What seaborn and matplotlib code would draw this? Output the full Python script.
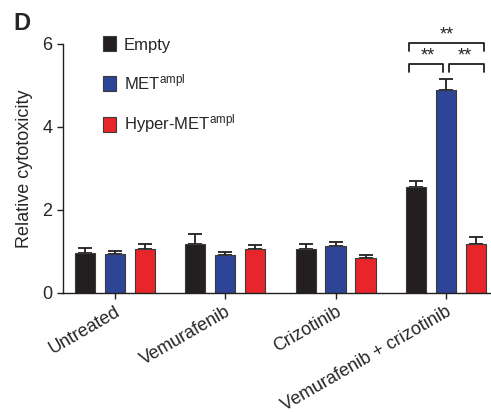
import matplotlib
matplotlib.use('Agg')
import matplotlib.pyplot as plt
import seaborn as sns
import pandas as pd
import numpy as np

# values
treatments = ['Untreated', 'Vemurafenib', 'Crizotinib', 'Vemurafenib + crizotinib']
cell_lines = ['Empty', 'MET$^{\\mathrm{ampl}}$', 'Hyper-MET$^{\\mathrm{ampl}}$']
empty_mean = [0.96, 1.17, 1.06, 2.56]
empty_err = [0.12, 0.26, 0.13, 0.14]
met_mean = [0.93, 0.91, 1.14, 4.88]
met_err = [0.09, 0.07, 0.08, 0.27]
hyper_mean = [1.06, 1.06, 0.85, 1.19]
hyper_err = [0.12, 0.09, 0.07, 0.15]
colors = ['#231f20', '#2e4597', '#e8252b']

sns.set_style('ticks')
plt.rcParams['font.family'] = ['Liberation Sans', 'DejaVu Sans']
plt.rcParams['mathtext.fontset'] = 'custom'
plt.rcParams['mathtext.rm'] = 'Liberation Sans'
plt.rcParams['mathtext.it'] = 'Liberation Sans:italic'
plt.rcParams['mathtext.bf'] = 'Liberation Sans:bold'

df = pd.DataFrame({
    'treatment': treatments * 3,
    'line': [cell_lines[0]] * 4 + [cell_lines[1]] * 4 + [cell_lines[2]] * 4,
    'value': empty_mean + met_mean + hyper_mean,
})
errs = [empty_err, met_err, hyper_err]

fig = plt.figure(figsize=(4.91, 4.13), dpi=100)
ax = fig.add_axes([0.128, 0.2906, 0.87, 0.603])

sns.barplot(data=df, x='treatment', y='value', hue='line', hue_order=cell_lines,
            palette=colors, saturation=1, width=0.815, gap=0.33, errorbar=None,
            edgecolor='#3a3a3a', linewidth=0.8, ax=ax)

# one-sided error bars (upward), drawn under the bars
centers = []
for cont, err in zip(ax.containers, errs):
    xs = [p.get_x() + p.get_width() / 2 for p in cont]
    ys = [p.get_height() for p in cont]
    centers.append(xs)
    ax.errorbar(xs, ys, yerr=[np.zeros(len(err)), err], fmt='none',
                ecolor='#231f20', elinewidth=1.3, capsize=5, capthick=1.3, zorder=0.5)

ax.set_ylim(0, 6)
ax.set_xlim(-0.471, 3.40)
ax.set_yticks([0, 2, 4, 6])
ax.tick_params(axis='both', direction='out', length=4, width=1, labelsize=13, color='#231f20')
ax.set_xlabel('')
ax.set_ylabel('Relative cytotoxicity', fontsize=13, labelpad=7)
plt.setp(ax.get_xticklabels(), rotation=30, ha='right', va='top', rotation_mode='anchor')
sns.despine(ax=ax)
for s in ['left', 'bottom']:
    ax.spines[s].set_linewidth(1)
    ax.spines[s].set_color('#231f20')

handles, labels = ax.get_legend_handles_labels()
ax.legend(handles, labels, frameon=False, loc='upper left', bbox_to_anchor=(0.094, 1.03),
          handlelength=0.8, handleheight=1.0, handletextpad=0.45, labelspacing=1.2,
          borderpad=0, borderaxespad=0, fontsize=12)

# significance brackets on the combination group
bx = centers[0][3] - 0.06
rx = centers[2][3] + 0.07
mx = centers[1][3]
def bracket(x1, x2, y, drop=0.2):
    ax.plot([x1, x1, x2, x2], [y - drop, y, y, y - drop], color='#231f20', lw=1.3,
            clip_on=False)
bracket(bx, rx, 6.02)
bracket(bx, mx - 0.025, 5.52)
bracket(mx + 0.025, rx, 5.52)
ax.text((bx + rx) / 2, 6.22, '**', ha='center', va='center', fontsize=13, clip_on=False)
ax.text((bx + mx) / 2, 5.72, '**', ha='center', va='center', fontsize=13, clip_on=False)
ax.text((mx + rx) / 2, 5.72, '**', ha='center', va='center', fontsize=13, clip_on=False)

fig.text(0.027, 0.943, 'D', fontsize=17, fontweight='bold', ha='left', va='center')

fig.savefig('out.png', dpi=100)
